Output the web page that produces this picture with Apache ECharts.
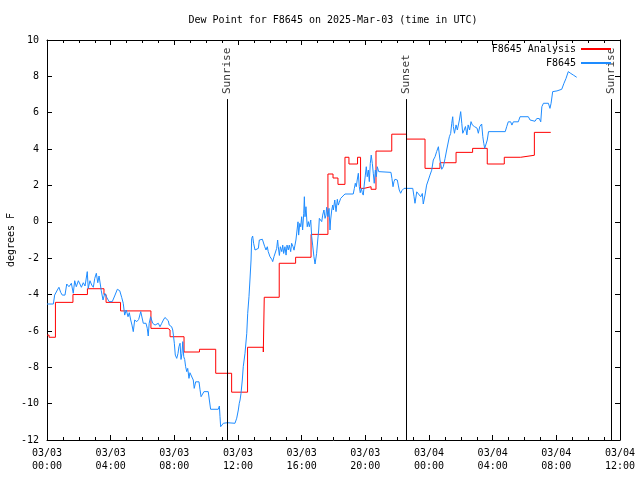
<!DOCTYPE html>
<html><head><meta charset="utf-8">
<script src="https://cdn.jsdelivr.net/npm/echarts@6/dist/echarts.min.js"></script>
<style>html,body{margin:0;padding:0;background:#fff}#c{width:640px;height:480px}</style>
</head><body><div id="c"></div>
<script>
const titleText = 'Dew Point for F8645 on 2025-Mar-03 (time in UTC)';
const yAxisName = 'degrees F';
const analysisName = 'F8645 Analysis';
const obsName = 'F8645';
// [hours since 2025-03-03 00:00 UTC, dew point °F]
const analysisSeries = [[0.00,-6.23],[0.13,-6.35],[0.53,-4.43],[1.63,-4.00],[2.54,-3.68],[3.58,-4.00],[3.71,-4.43],[4.62,-4.90],[6.53,-5.86],[7.60,-5.95],[7.73,-6.32],[8.61,-7.16],[9.58,-7.01],[10.60,-8.33],[11.60,-9.37],[12.60,-6.90],[13.59,-7.16],[13.65,-4.15],[14.59,-2.28],[15.62,-1.95],[16.59,-0.69],[17.65,2.63],[17.97,2.41],[18.28,2.06],[18.72,3.55],[18.97,3.18],[19.51,3.55],[19.70,1.84],[19.92,1.93],[20.36,1.79],[20.67,3.89],[21.66,4.82],[22.59,4.55],[23.75,2.94],[24.69,3.25],[25.70,3.82],[26.74,4.04],[27.66,3.18],[28.73,3.55],[29.76,3.66],[30.62,4.92],[31.65,4.92]];
const obsSeries = [[0.00,-4.52],[0.40,-4.52],[0.48,-4.03],[0.65,-3.75],[0.75,-3.60],[0.86,-3.88],[0.96,-4.03],[1.13,-4.03],[1.24,-3.42],[1.38,-3.57],[1.53,-3.38],[1.65,-3.93],[1.74,-3.24],[1.84,-3.57],[1.97,-3.24],[2.07,-3.42],[2.16,-3.60],[2.28,-3.35],[2.39,-3.53],[2.53,-2.74],[2.59,-3.66],[2.70,-3.24],[2.81,-3.48],[2.91,-3.60],[3.00,-3.11],[3.10,-2.83],[3.19,-3.35],[3.27,-2.98],[3.41,-3.79],[3.52,-4.30],[3.63,-3.93],[3.75,-4.15],[3.90,-4.39],[4.10,-4.39],[4.25,-4.08],[4.42,-3.71],[4.57,-3.79],[4.69,-4.15],[4.79,-4.48],[4.88,-5.13],[4.98,-4.85],[5.09,-5.22],[5.17,-5.00],[5.26,-5.40],[5.34,-5.68],[5.42,-6.04],[5.51,-5.40],[5.64,-5.49],[5.76,-5.37],[5.89,-4.94],[5.99,-5.04],[6.05,-5.58],[6.22,-5.58],[6.30,-5.86],[6.36,-6.28],[6.42,-5.58],[6.51,-5.22],[6.64,-5.58],[6.79,-5.68],[6.99,-5.58],[7.10,-5.77],[7.21,-5.58],[7.31,-5.40],[7.41,-5.26],[7.52,-5.18],[7.62,-5.44],[7.68,-5.68],[7.77,-5.63],[7.83,-5.77],[7.90,-5.95],[7.94,-6.23],[8.00,-6.68],[8.06,-7.33],[8.15,-7.51],[8.23,-7.24],[8.29,-6.87],[8.36,-6.68],[8.42,-7.57],[8.48,-7.24],[8.53,-6.59],[8.59,-7.42],[8.65,-7.57],[8.71,-7.97],[8.78,-8.24],[8.84,-8.06],[8.92,-8.61],[8.98,-8.30],[9.09,-8.27],[9.19,-8.70],[9.25,-9.16],[9.34,-8.80],[9.44,-8.75],[9.55,-8.80],[9.61,-9.21],[9.68,-9.62],[9.78,-9.62],[9.86,-9.34],[10.13,-9.34],[10.20,-9.80],[10.28,-10.31],[10.76,-10.31],[10.83,-10.13],[10.87,-10.72],[10.91,-11.27],[11.00,-11.18],[11.08,-11.08],[11.33,-11.05],[11.81,-11.08],[11.92,-10.80],[12.02,-10.35],[12.08,-9.98],[12.13,-9.80],[12.19,-9.43],[12.27,-8.70],[12.33,-7.97],[12.44,-7.23],[12.55,-6.13],[12.61,-5.03],[12.69,-4.12],[12.75,-3.20],[12.82,-2.10],[12.86,-0.91],[12.92,-0.78],[12.98,-1.18],[13.07,-1.55],[13.18,-1.64],[13.28,-1.46],[13.34,-1.00],[13.45,-1.05],[13.53,-0.96],[13.61,-0.85],[13.68,-1.37],[13.76,-1.55],[13.84,-1.37],[13.90,-1.64],[14.01,-1.92],[14.12,-2.06],[14.18,-2.19],[14.26,-1.92],[14.32,-1.83],[14.43,-1.46],[14.49,-1.00],[14.53,-1.37],[14.60,-1.85],[14.66,-1.37],[14.75,-1.64],[14.81,-1.28],[14.87,-1.74],[14.95,-1.37],[15.02,-1.83],[15.08,-1.28],[15.16,-1.55],[15.22,-1.28],[15.31,-1.64],[15.37,-1.18],[15.46,-1.37],[15.52,-1.56],[15.58,-1.28],[15.64,-1.00],[15.71,-0.45],[15.77,0.00],[15.81,-0.73],[15.88,-0.09],[15.94,-0.27],[16.00,0.28],[16.06,-0.45],[16.13,0.47],[16.17,1.38],[16.21,0.28],[16.27,0.83],[16.35,-0.27],[16.42,0.01],[16.48,-0.27],[16.57,0.10],[16.63,-0.82],[16.69,-1.28],[16.77,-1.92],[16.84,-2.32],[16.90,-2.32],[16.94,-1.73],[17.01,-1.00],[17.07,-0.45],[17.11,0.19],[17.20,0.28],[17.26,0.01],[17.32,0.37],[17.40,0.65],[17.47,0.19],[17.53,0.37],[17.57,0.80],[17.65,0.28],[17.72,0.74],[17.78,-0.45],[17.82,0.10],[17.89,0.65],[17.95,0.92],[17.99,0.65],[18.08,1.20],[18.16,0.56],[18.24,1.24],[18.30,0.92],[18.36,1.06],[18.45,1.29],[18.55,1.38],[18.72,1.53],[19.24,1.53],[19.31,1.84],[19.37,2.12],[19.43,1.93],[19.49,2.30],[19.56,2.67],[19.62,1.93],[19.68,1.60],[19.75,1.84],[19.81,1.60],[19.87,1.47],[19.93,2.02],[20.00,2.57],[20.06,3.03],[20.12,2.48],[20.19,2.85],[20.25,2.21],[20.31,3.20],[20.37,3.67],[20.44,3.20],[20.50,2.67],[20.56,2.12],[20.63,2.85],[20.69,2.48],[20.75,3.03],[20.84,2.76],[21.61,2.72],[21.67,2.39],[21.74,1.93],[21.80,2.21],[21.86,2.34],[21.94,2.45],[22.01,2.30],[22.07,2.02],[22.13,1.75],[22.22,1.57],[22.30,1.72],[22.43,1.84],[22.98,1.84],[23.06,1.38],[23.12,1.02],[23.23,1.65],[23.33,1.75],[23.48,1.38],[23.58,1.56],[23.64,0.98],[23.75,1.47],[23.85,2.02],[23.96,2.30],[24.06,2.57],[24.17,2.84],[24.27,3.40],[24.38,3.58],[24.48,3.86],[24.59,4.13],[24.65,4.22],[24.69,3.40],[24.80,2.89],[24.90,3.03],[25.01,3.49],[25.11,3.95],[25.21,3.86],[25.28,4.68],[25.36,4.86],[25.43,5.42],[25.49,5.78],[25.53,5.24],[25.60,4.87],[25.70,5.33],[25.78,5.05],[25.91,5.60],[25.99,6.06],[26.06,5.42],[26.12,4.87],[26.21,5.05],[26.29,5.24],[26.38,4.78],[26.46,5.33],[26.55,5.05],[26.64,5.51],[26.72,5.33],[26.85,5.24],[27.02,5.15],[27.10,4.87],[27.19,5.24],[27.31,5.38],[27.38,4.68],[27.44,4.32],[27.50,4.04],[27.57,4.13],[27.66,4.50],[27.74,4.96],[28.79,4.96],[28.88,5.23],[28.98,5.50],[29.13,5.50],[29.21,5.32],[29.30,5.50],[29.61,5.50],[29.72,5.78],[30.24,5.78],[30.35,5.60],[30.45,5.50],[30.66,5.53],[30.77,5.68],[30.93,5.68],[31.02,5.50],[31.09,6.33],[31.19,6.52],[31.50,6.52],[31.60,6.24],[31.67,6.52],[31.77,7.16],[32.04,7.20],[32.34,7.29],[32.48,7.62],[32.61,7.89],[32.75,8.26],[32.91,8.16],[33.07,8.07],[33.28,7.95]];
const eventNames = ['Sunrise', 'Sunset', 'Sunrise'];
const eventHours = [11.32, 22.56, 35.45];
const eventTop = 6.75;
const xMin = 0, xMax = 36, xStep = 4;
const yMin = -12, yMax = 10, yStep = 2;

const FONT = 'DejaVu Sans Mono';
const pad2 = n => String(n).padStart(2, '0');
const xLabel = v => '03/' + pad2(3 + Math.floor(v / 24)) + '\n' + pad2(v % 24) + ':00';

const chart = echarts.init(document.getElementById('c'), null, {renderer: 'canvas'});
const black = '#000';
const baseX = {
  type: 'value', min: xMin, max: xMax, interval: xStep,
  axisLine: {show: true, onZero: false, lineStyle: {color: black, width: 1}},
  axisTick: {show: true, inside: true, length: 5, lineStyle: {color: black}},
  minorTick: {show: true, splitNumber: 4, length: 3, lineStyle: {color: black}},
  splitLine: {show: false}
};
const baseY = {
  type: 'value', min: yMin, max: yMax, interval: yStep,
  axisLine: {show: true, onZero: false, lineStyle: {color: black, width: 1}},
  axisTick: {show: true, inside: true, length: 5, lineStyle: {color: black}},
  splitLine: {show: false}
};
chart.setOption({
  animation: false,
  backgroundColor: '#fff',
  textStyle: {fontFamily: FONT},
  title: {
    text: titleText, left: 328, top: 10, textAlign: 'center',
    textStyle: {fontFamily: FONT, fontSize: 10, fontWeight: 'normal', color: black}
  },
  legend: {
    orient: 'vertical', align: 'right', right: 28, top: 44, padding: 0,
    itemWidth: 30, itemHeight: 10, itemGap: 4,
    data: [analysisName, obsName],
    itemStyle: {opacity: 0},
    textStyle: {fontFamily: FONT, fontSize: 10, color: black}
  },
  grid: {left: 47, right: 20, top: 40, bottom: 40, containLabel: false, outerBoundsMode: 'none'},
  xAxis: [
    Object.assign({}, baseX, {
      position: 'bottom',
      axisLabel: {show: true, formatter: xLabel, margin: 7, fontFamily: FONT, fontSize: 10, color: black, lineHeight: 13, showMinLabel: true, showMaxLabel: true}
    }),
    Object.assign({}, baseX, {position: 'top', axisLabel: {show: false}})
  ],
  yAxis: [
    Object.assign({}, baseY, {
      position: 'left',
      name: yAxisName, nameLocation: 'middle', nameGap: 31, nameRotate: 90, nameMoveOverlap: false,
      nameTextStyle: {fontFamily: FONT, fontSize: 10, color: black},
      axisLabel: {show: true, margin: 8, fontFamily: FONT, fontSize: 10, color: black, showMinLabel: true, showMaxLabel: true}
    }),
    Object.assign({}, baseY, {position: 'right', axisLabel: {show: false}})
  ],
  series: [
    {
      name: analysisName, type: 'line', step: 'end', data: analysisSeries,
      symbol: 'none', showSymbol: false, xAxisIndex: 0, yAxisIndex: 0,
      lineStyle: {color: '#ff0000', width: 1}, itemStyle: {color: '#ff0000'}
    },
    {
      name: obsName, type: 'line', data: obsSeries,
      symbol: 'none', showSymbol: false, xAxisIndex: 0, yAxisIndex: 0,
      lineStyle: {color: '#1e8cff', width: 1}, itemStyle: {color: '#1e8cff'}
    },
    {
      name: 'events', type: 'scatter', xAxisIndex: 0, yAxisIndex: 0,
      symbolSize: 0, silent: true,
      data: eventHours.map((h, i) => ({name: eventNames[i], value: [h, eventTop]})),
      label: {
        show: true, position: 'top', distance: 5, rotate: 90,
        align: 'left', verticalAlign: 'middle',
        formatter: p => p.name, fontFamily: FONT, fontSize: 11, color: black
      },
      markLine: {
        silent: true, symbol: ['none', 'none'], label: {show: false},
        lineStyle: {color: black, width: 1, type: 'solid'},
        data: eventHours.map(h => [{coord: [h, eventTop]}, {coord: [h, yMin]}])
      }
    }
  ]
});
</script>
</body></html>
